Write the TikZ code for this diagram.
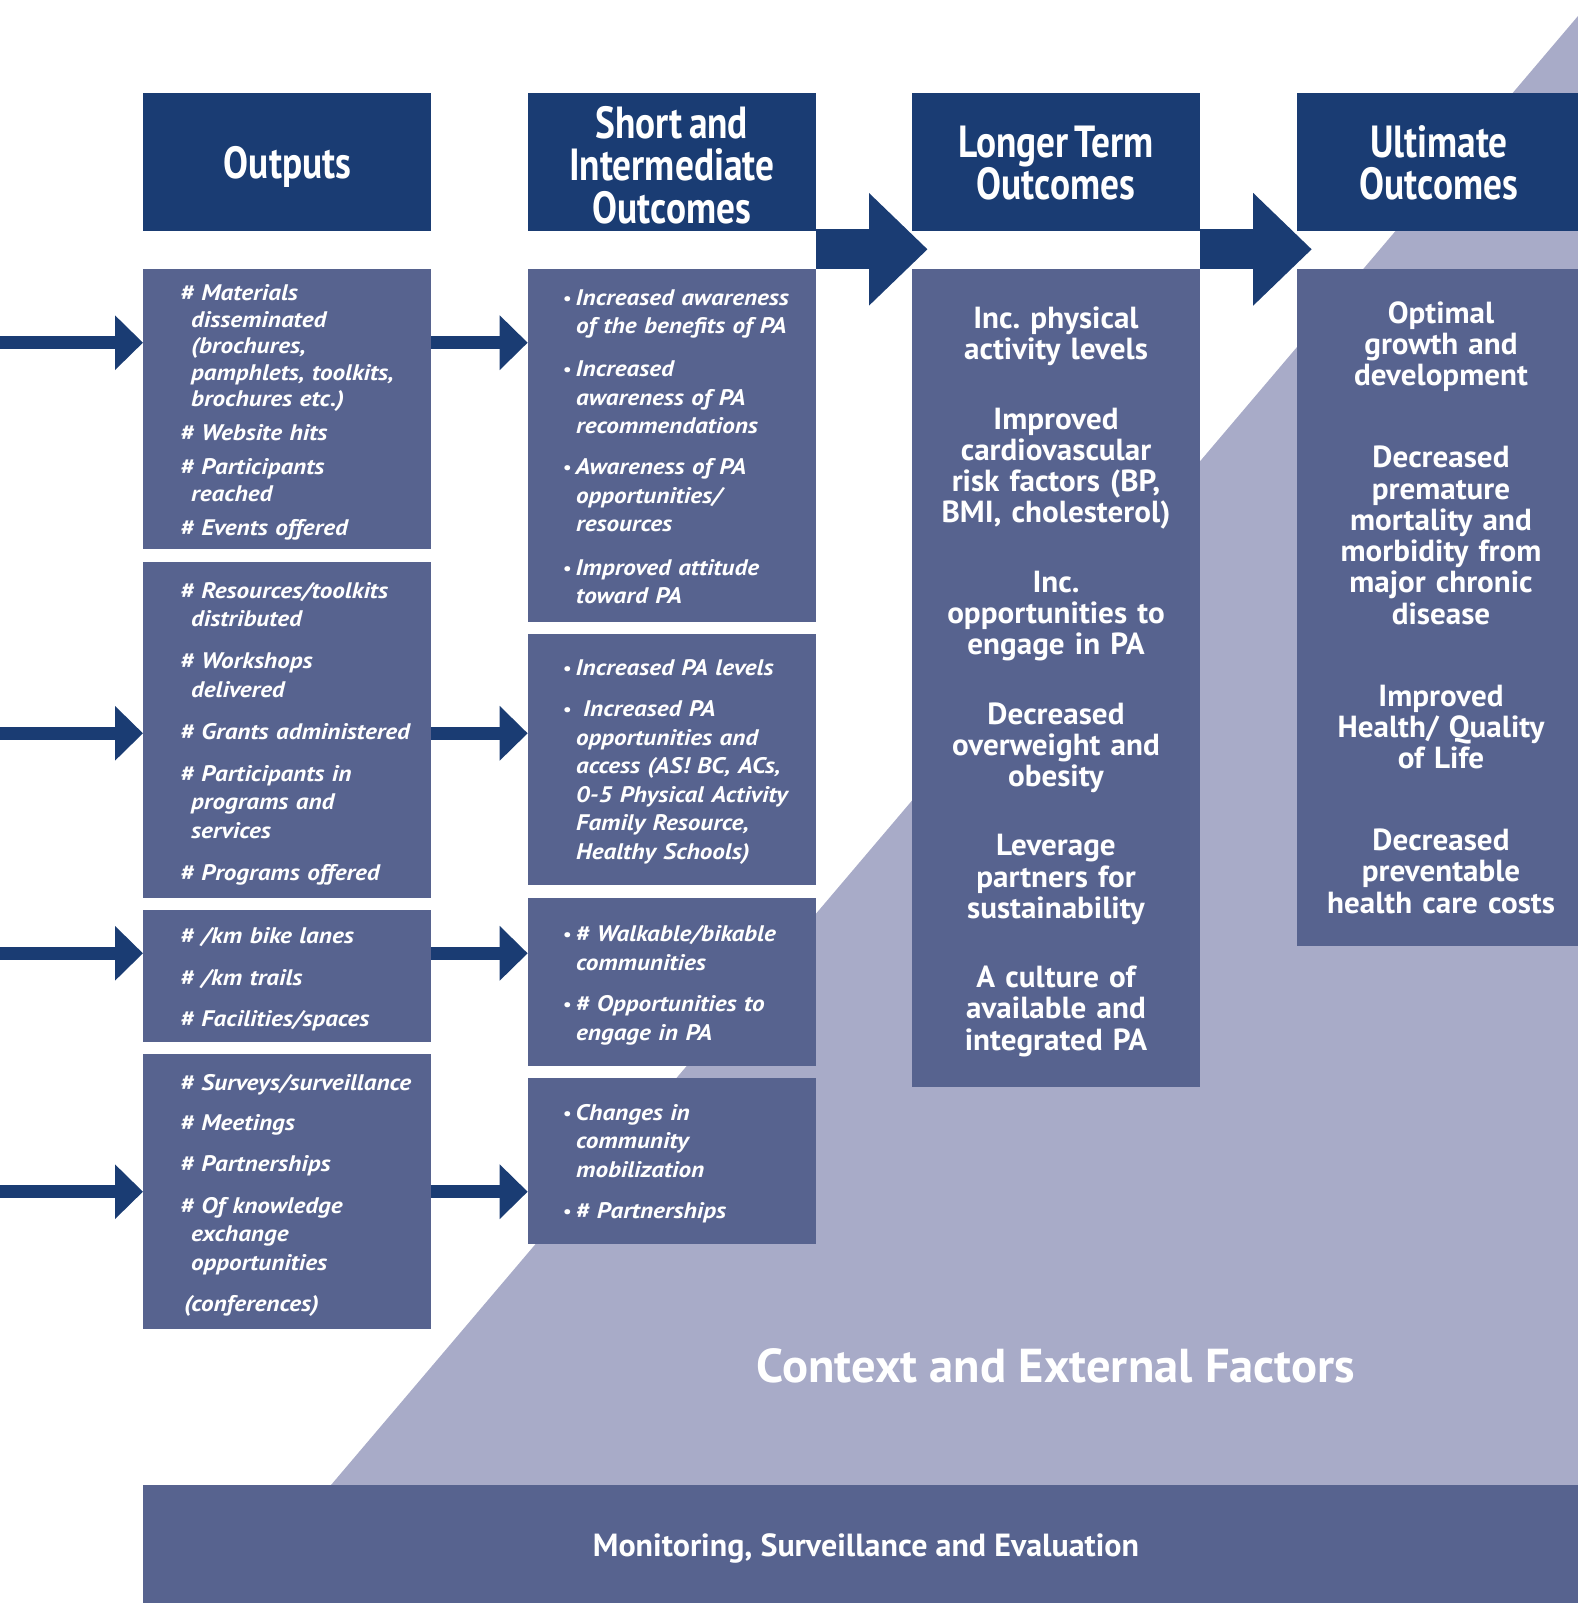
\documentclass[tikz,border=0pt]{standalone}
\usepackage{fontspec}
\setmainfont{PT Sans}
\newfontfamily\headfont[FakeStretch=0.83]{PT Sans}
\newfontfamily\listfont[FakeStretch=1.12,WordSpace=0.85]{PT Sans}
\newfontfamily\bodyfont[FakeStretch=1.02]{PT Sans}
\newfontfamily\barfont{PT Sans}
\usetikzlibrary{arrows.meta}
\definecolor{navy}{HTML}{1A3C73}
\definecolor{panelblue}{HTML}{57638F}
\definecolor{lavender}{HTML}{A8ABC8}
\newcommand{\hs}{\hspace*{11pt}}
\newcommand{\bul}{\makebox[10.5pt][l]{\hspace*{-2pt}\raisebox{1pt}{\upshape\fontsize{17}{17}\selectfont•}}}
\newcommand{\hsp}{\hspace{6pt}}
\frenchspacing

\begin{document}
\begin{tikzpicture}[x=1pt,y=-1pt,
    head/.style={fill=navy,inner sep=0,outer sep=0,anchor=north west,minimum width=288pt,minimum height=137.4pt},
    panel/.style={fill=panelblue,inner sep=0,outer sep=0,anchor=north west,minimum width=288pt},
    headtext/.style={text=white,inner sep=0,anchor=base,text width=300pt,align=center,font=\headfont\bfseries\fontsize{45}{42.5}\selectfont},
    listtext/.style={text=white,inner sep=0,anchor=base west,text width=320pt,align=left,font=\listfont\bfseries\itshape\fontsize{22.5}{28.5}\selectfont},
    bodytext/.style={text=white,inner sep=0,anchor=base,text width=300pt,align=center,font=\bodyfont\bfseries\fontsize{30.5}{31.2}\selectfont},
    flow/.style={draw=navy,line width=13.3pt,-{Triangle[length=28pt,width=53pt]}},
    bigflow/.style={draw=navy,line width=40pt,-{Triangle[length=58.6pt,width=109pt]}}
  ]
    \pgfmathsetmacro{\xa}{143}
    \pgfmathsetmacro{\xb}{527.7}
    \pgfmathsetmacro{\xc}{912}
    \pgfmathsetmacro{\xd}{1296.5}
    \pgfmathsetmacro{\headtop}{93.3}
    \pgfmathsetmacro{\paneltop}{269.3}
    \useasboundingbox (0,0) rectangle (1578,1603);
    % context triangle
    \fill[lavender] (331,1485) -- (1578,16) -- (1578,1485) -- cycle;

    % column headers
    \node[head] (hout) at (\xa,\headtop) {};
    \node[head] (hsio) at (\xb,\headtop) {};
    \node[head] (hlong) at (\xc,\headtop) {};
    \node[head,minimum width=281.5pt] (hult) at (\xd,\headtop) {};
    \node[headtext] (houtt) at (287.5,178) {Outputs};
    \node[headtext] (hsiot) at (671.8,138) {Short\hsp and\\Intermediate\\Outcomes};
    \node[headtext] (hlongt) at (1056,157.3) {Longer\hsp Term\\Outcomes};
    \node[headtext] (hultt) at (1439,157.3) {Ultimate\\Outcomes};

    % panels
    \node[panel,minimum height=279.7pt] (o1) at (\xa,269) {};
    \node[panel,minimum height=335.4pt] (o2) at (\xa,562.3) {};
    \node[panel,minimum height=131.7pt] (o3) at (\xa,910) {};
    \node[panel,minimum height=275.3pt] (o4) at (\xa,1054) {};
    \node[panel,minimum height=352.7pt] (s1) at (\xb,269) {};
    \node[panel,minimum height=250.7pt] (s2) at (\xb,634.3) {};
    \node[panel,minimum height=167.4pt] (s3) at (\xb,898.3) {};
    \node[panel,minimum height=166pt] (s4) at (\xb,1078.3) {};
    \node[panel,minimum height=818pt] (lt) at (\xc,\paneltop) {};
    \node[panel,minimum height=676.4pt,minimum width=281.5pt] (ul) at (\xd,\paneltop) {};
    \node[panel,minimum height=118pt,minimum width=1435pt] (mse) at (\xa,1485) {};

    % arrows
    \coordinate (r1) at (0,342.7);
    \coordinate (r2) at (0,733.3);
    \coordinate (r3) at (0,953.3);
    \coordinate (r4) at (0,1191.7);
    \draw[flow] (r1) -- (o1.west |- r1);
    \draw[flow] (r2) -- (o2.west |- r2);
    \draw[flow] (r3) -- (o3.west |- r3);
    \draw[flow] (r4) -- (o4.west |- r4);
    \draw[flow] (o1.east |- r1) -- (s1.west |- r1);
    \draw[flow] (o2.east |- r2) -- (s2.west |- r2);
    \draw[flow] (o3.east |- r3) -- (s3.west |- r3);
    \draw[flow] (o4.east |- r4) -- (s4.west |- r4);
    \coordinate (t1) at (927.6,249.3);
    \coordinate (t2) at (1311.8,249.3);
    \draw[bigflow] (hsio.east |- t1) -- (t1);
    \draw[bigflow] (hlong.east |- t2) -- (t2);

    % outputs
    \node[listtext,font=\listfont\bfseries\itshape\fontsize{22.5}{26.5}\selectfont] (o1t) at (180,300.7)
      {\# Materials\\\hs disseminated\\\hs (brochures,\\\hs pamphlets, toolkits,\\\hs brochures etc.)\\[7.5pt]%
       \# Website hits\\[7.5pt]\# Participants\\\hs reached\\[7.5pt]\# Events offered};
    \node[listtext] (o2t) at (180,598.3)
      {\# Resources/toolkits\\\hs distributed\\[13.5pt]\# Workshops\\\hs delivered\\[13.5pt]%
       \# Grants administered\\[13.5pt]\# Participants in\\\hs programs and\\\hs services\\[13.5pt]\# Programs offered};
    \node[listtext] (o3t) at (180,943.3)
      {\# /km bike lanes\\[13.2pt]\# /km trails\\[13.2pt]\# Facilities/spaces};
    \node[listtext] (o4t) at (180,1090)
      {\# Surveys/surveillance\\[11.5pt]\# Meetings\\[13.2pt]\# Partnerships\\[13.2pt]%
       \# Of knowledge\\\hs exchange\\\hs opportunities\\[12.5pt]\hspace*{4pt}(conferences)};

    % short and intermediate
    \node[listtext] (s1t) at (565,305)
      {\bul Increased awareness\\\hs of the benefits of PA\\[14.9pt]\bul Increased\\\hs awareness of PA\\\hs recommendations\\[12.5pt]%
       \bul Awareness of PA\\\hs opportunities/\\\hs resources\\[14.8pt]\bul Improved attitude\\\hs toward PA};
    \node[listtext] (s2t) at (565,675)
      {\bul Increased PA levels\\[13.2pt]\bul\ Increased PA\\\hs opportunities and\\\hs access (AS! BC, ACs,\\%
       \hs 0-5 Physical Activity\\\hs Family Resource,\\\hs Healthy Schools)};
    \node[listtext] (s3t) at (565,941.7)
      {\bul\# Walkable/bikable\\\hs communities\\[13.2pt]\bul\# Opportunities to\\\hs engage in PA};
    \node[listtext] (s4t) at (565,1120)
      {\bul Changes in\\\hs community\\\hs mobilization\\[13.2pt]\bul\# Partnerships};

    % longer term and ultimate
    \node[bodytext,font=\bodyfont\bfseries\fontsize{30.5}{31.1}\selectfont] (ltt) at (1056,328.3)
      {Inc. physical\\activity levels\\[38.6pt]Improved\\cardiovascular\\risk factors (BP,\\BMI, cholesterol)\\[38.6pt]%
       Inc.\\opportunities to\\engage in PA\\[38.6pt]Decreased\\overweight and\\obesity\\[38.6pt]%
       Leverage\\partners for\\sustainability\\[38.6pt]A culture of\\available and\\integrated PA};
    \node[bodytext,font=\bodyfont\bfseries\fontsize{30.5}{31.3}\selectfont] (ult) at (1441,323.3)
      {Optimal\\growth and\\development\\[50.5pt]Decreased\\premature\\mortality and\\morbidity from\\major chronic\\disease\\[50.5pt]%
       Improved\\Health/ Quality\\of Life\\[50.5pt]Decreased\\preventable\\health care costs};

    \node[text=white,inner sep=0,anchor=base,font=\bodyfont\bfseries\fontsize{47.6}{48}\selectfont] (cef) at (1056,1382.7) {Context and External Factors};
    \node[text=white,inner sep=0,anchor=base,font=\barfont\bfseries\fontsize{32}{32}\selectfont] (mset) at (866,1556.7) {Monitoring, Surveillance and Evaluation};
\end{tikzpicture}
\end{document}
